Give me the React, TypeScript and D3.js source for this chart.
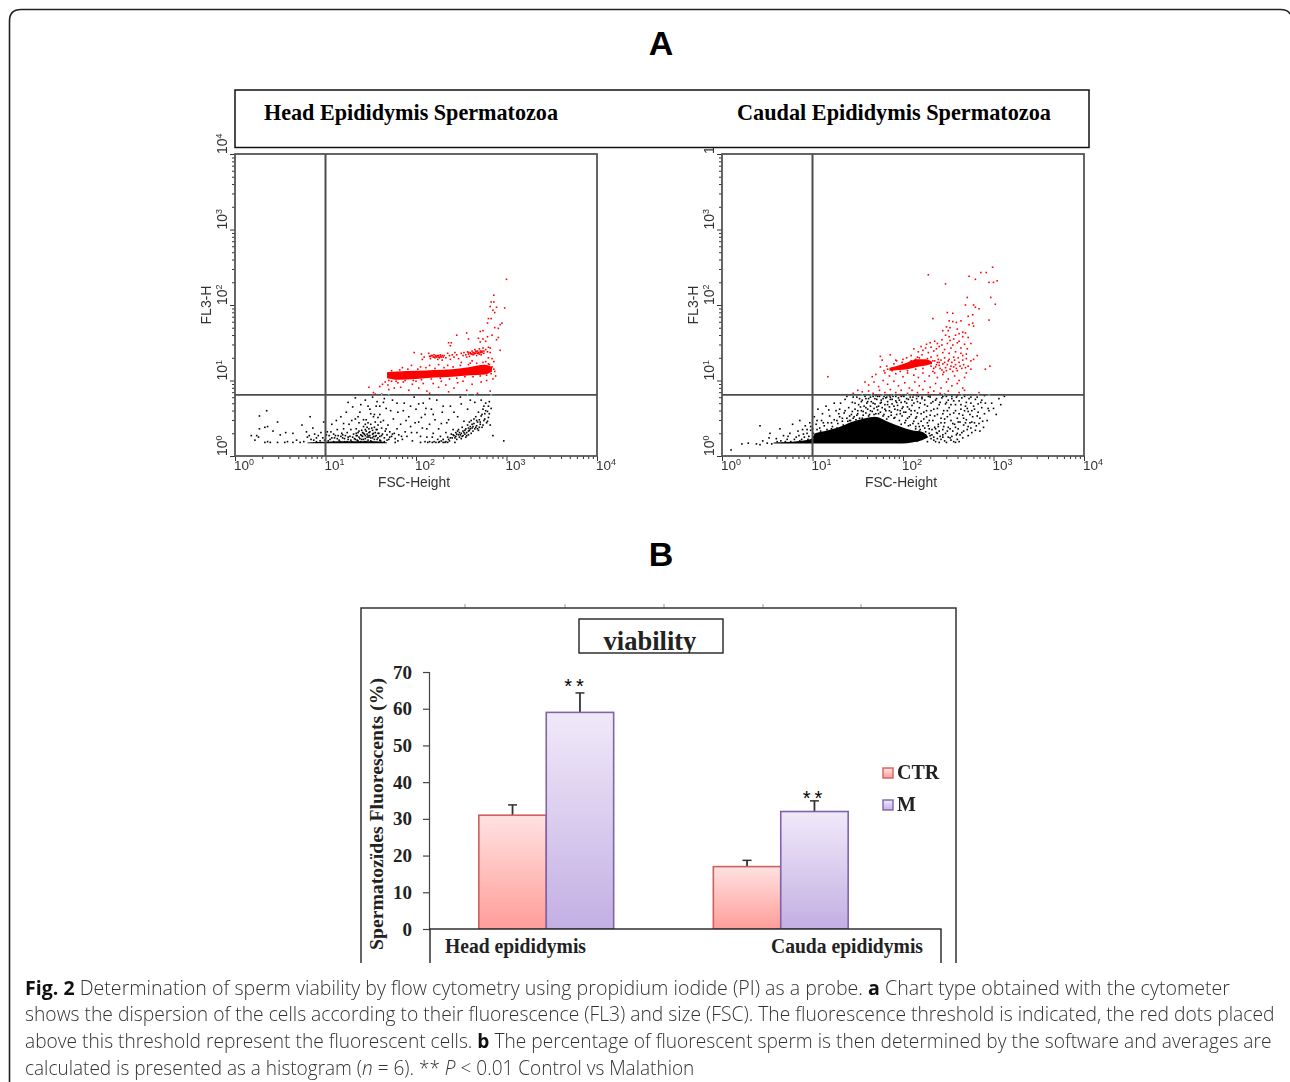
import React, { useEffect, useRef } from 'react';
import * as d3 from 'd3';

type Pt = [number, number];

// flow cytometry points as [log10 FSC, log10 FL3]
const headBlack: Pt[] = [
  [.35,.60],[.27,.53],[.33,.38],[.36,.39],[.27,.36],[.47,.45],[.18,.27],[.24,.27],[.22,.21],[.26,.25],[.33,.18],[.36,.19],[.39,.18],[.47,.18],[.55,.18],[.58,.19],[.64,.18],
  [.42,.33],[.50,.28],[.56,.31],[.64,.30],[.74,.41],[.83,.52],[.86,.37],[.79,.32],[.68,.21],[.72,.18],[.76,.19],[.80,.25],[.82,.27],[.84,.22],[.88,.29],[.90,.24],[.92,.27],[.95,.31],[.97,.24],
  [.98,.45],[1.02,.32],[1.04,.27],[1.05,.22],[1.07,.42],[1.09,.29],[1.10,.24],[1.12,.47],[1.13,.35],[1.14,.27],[1.15,.21],[1.17,.52],[1.18,.30],[1.19,.24],[1.20,.36],[1.21,.19],
  [1.22,.27],[1.23,.58],[1.24,.31],[1.25,.22],[1.26,.42],[1.27,.26],[1.28,.35],[1.29,.19],[1.30,.65],[1.31,.29],[1.32,.23],[1.33,.49],[1.34,.36],[1.34,.27],[1.35,.21],[1.36,.31],
  [1.37,.44],[1.37,.25],[1.38,.58],[1.39,.28],[1.40,.34],[1.40,.22],[1.41,.26],[1.42,.39],[1.42,.30],[1.43,.19],[1.44,.27],[1.44,.23],[1.45,.48],[1.45,.33],[1.46,.29],[1.46,.25],
  [1.47,.21],[1.48,.36],[1.48,.31],[1.49,.62],[1.49,.27],[1.50,.42],[1.50,.24],[1.51,.19],[1.52,.34],[1.52,.29],[1.53,.52],[1.53,.26],[1.54,.38],[1.54,.22],[1.55,.31],[1.55,.45],
  [1.56,.27],[1.57,.72],[1.57,.35],[1.58,.24],[1.58,.41],[1.59,.30],[1.60,.55],[1.60,.26],[1.61,.20],[1.62,.37],[1.63,.29],[1.64,.47],[1.65,.24],[1.66,.33],[1.67,.63],[1.68,.28],
  [1.69,.41],[1.70,.22],[1.71,.32],[1.73,.26],[1.74,.74],[1.75,.49],[1.76,.30],[1.77,.23],[1.79,.36],[1.80,.58],[1.81,.28],[1.83,.42],[1.85,.22],[1.87,.70],[1.88,.32],[1.90,.26],
  [1.92,.52],[1.94,.39],[1.96,.20],[1.98,.78],[2.00,.62],[2.01,.31],[2.03,.45],[2.05,.18],[2.07,.37],[2.08,.70],[2.10,.55],[2.12,.25],[2.13,.18],[2.15,.42],[2.17,.62],[2.18,.18],
  [2.19,.30],[2.21,.48],[2.22,.18],[2.23,.74],[2.25,.36],[2.26,.19],[2.27,.26],[2.29,.58],[2.30,.22],[2.32,.18],[2.33,.31],[2.34,.44],[2.35,.25],[2.37,.20],[2.38,.66],[2.39,.29],
  [2.40,.24],[2.41,.35],[2.42,.27],[2.43,.18],[2.44,.31],[2.45,.22],[2.46,.52],[2.47,.28],[2.47,.35],[2.48,.25],[2.49,.78],[2.50,.30],[2.50,.23],[2.51,.38],[2.52,.27],[2.52,.33],
  [2.53,.46],[2.54,.29],[2.55,.36],[2.55,.25],[2.56,.31],[2.57,.41],[2.57,.62],[2.58,.28],[2.59,.34],[2.60,.39],[2.61,.30],[2.61,.47],[2.62,.37],[2.63,.33],[2.64,.43],[2.65,.71],
  [2.65,.36],[2.66,.52],[2.67,.40],[2.68,.45],[2.69,.34],[2.69,.58],[2.70,.48],[2.71,.42],[2.72,.74],[2.72,.53],[2.73,.38],[2.74,.62],[2.75,.47],[2.75,.66],[2.76,.56],[2.77,.70],
  [2.78,.44],[2.79,.59],[2.80,.51],[2.81,.72],[2.82,.41],[2.83,.63],[2.85,.27],[2.97,.20],[1.25,.71],[1.33,.77],[1.44,.74],[1.52,.78],[1.60,.66],[1.65,.76],[2.30,.66],[2.15,.76],
];
// second pass over the crowded spots of the head plot
const headBlackCrowd: Pt[] = [
  [1.41,.31],[1.47,.27],[1.38,.23],[1.52,.24],[1.44,.35],[1.35,.27],[1.58,.30],[1.50,.20],[1.43,.29],[1.39,.19],[1.55,.26],[1.46,.38],[1.33,.22],[1.60,.21],[1.48,.25],[1.42,.22],
  [1.37,.33],[1.53,.30],[1.30,.25],[1.45,.19],[1.56,.35],[1.40,.27],[1.51,.37],[1.36,.20],[1.49,.32],[1.28,.21],[1.62,.27],[1.44,.42],[1.34,.30],[1.57,.22],[1.25,.25],[1.47,.44],
  [1.21,.23],[1.11,.27],[1.16,.19],[1.07,.24],[1.19,.28],[1.03,.20],[1.13,.23],[.99,.21],[1.09,.19],[1.24,.19],[1.17,.26],[1.01,.28],[.94,.20],[.90,.19],[1.06,.32],[.87,.21],
  [1.68,.21],[1.74,.29],[1.65,.19],[1.80,.20],[1.71,.25],[1.77,.18],[1.84,.26],[1.67,.36],[1.61,.45],[1.54,.55],[1.47,.66],[1.42,.48],[1.58,.51],[1.39,.68],[1.29,.47],[1.20,.43],
  [2.49,.28],[2.44,.26],[2.53,.31],[2.46,.33],[2.41,.28],[2.56,.27],[2.51,.26],[2.38,.24],[2.58,.33],[2.48,.31],[2.43,.24],[2.54,.34],[2.36,.22],[2.60,.36],[2.45,.29],[2.62,.42],
  [2.66,.38],[2.71,.45],[2.63,.39],[2.68,.36],[2.74,.41],[2.58,.37],[2.70,.38],[2.76,.49],[2.79,.46],[2.73,.55],[2.67,.47],[2.77,.60],[2.80,.66],[2.81,.56],[2.64,.49],[2.59,.45],
  [2.28,.20],[2.20,.19],[2.33,.19],[2.25,.18],[2.15,.19],[2.10,.19],[2.35,.18],[2.30,.18],[2.18,.25],[2.24,.22],[1.95,.31],[2.05,.26],[1.89,.47],[1.99,.44],[2.06,.51],[2.12,.36],
  [1.86,.60],[1.94,.66],[2.03,.69],[2.11,.63],[2.19,.55],[2.28,.43],[2.36,.48],[2.42,.58],[2.50,.69],[2.60,.74],[1.79,.70],[1.72,.60],[1.64,.71],[1.56,.66],[1.50,.56],[1.36,.52],
];
const headStripFsc = [.8, 1.0, 1.3, 1.55, 1.68];
const headStripLow = [.17, .17, .17, .17, .17];
const headStripHigh = [.18, .19, .195, .195, .18];
const headRed: Pt[] = [
  [3.0,2.34],[2.86,2.13],[2.83,2.04],[2.86,2.04],[2.82,1.98],[2.89,1.97],[2.85,1.93],[2.98,1.96],[2.87,1.90],[2.80,1.82],[2.83,1.82],[2.79,1.76],[2.95,1.76],[2.93,1.74],[2.87,1.70],[2.91,1.69],
  [2.71,1.65],[2.74,1.66],[2.56,1.63],[2.45,1.60],[2.84,1.60],[2.91,1.57],[2.69,1.56],[2.74,1.55],[2.79,1.58],[2.58,1.55],[2.36,1.50],[2.39,1.50],[2.38,1.46],[2.71,1.51],[2.77,1.52],[2.89,1.54],
  [2.82,1.43],[2.93,1.40],[1.98,1.37],[2.06,1.35],[2.07,1.28],[2.09,1.31],[2.14,1.36],[2.15,1.32],[2.16,1.29],[2.17,1.33],[2.19,1.31],[2.20,1.34],[2.21,1.30],[2.22,1.33],[2.23,1.31],[2.24,1.28],
  [2.25,1.33],[2.26,1.30],[2.27,1.34],[2.28,1.31],[2.29,1.27],[2.31,1.33],[2.33,1.30],[2.35,1.36],[2.37,1.33],[2.38,1.28],[2.40,1.34],[2.42,1.31],[2.43,1.37],[2.45,1.34],[2.47,1.29],[2.50,1.36],
  [2.52,1.33],[2.53,1.37],[2.55,1.34],[2.56,1.31],[2.57,1.38],[2.58,1.35],[2.59,1.32],[2.60,1.37],[2.61,1.35],[2.62,1.39],[2.63,1.34],[2.64,1.37],[2.65,1.41],[2.66,1.36],[2.67,1.33],[2.68,1.39],
  [2.69,1.36],[2.70,1.42],[2.71,1.37],[2.72,1.34],[2.73,1.39],[2.74,1.43],[2.75,1.36],[2.77,1.41],[2.79,1.38],[2.80,1.30],[2.80,1.44],[2.82,1.37],[2.84,1.29],[2.86,1.25],[2.62,1.26],[2.50,1.24],
  [1.48,.91],[1.53,.84],[1.55,.82],[1.62,.82],[1.60,.92],[1.66,.98],[1.63,.95],[1.69,.94],[1.70,.88],[1.73,.99],[1.76,.90],[1.80,.97],[1.83,.91],[1.86,.98],[1.92,.87],[1.96,.95],[2.00,.99],
  [2.03,.90],[2.08,.96],[2.12,.86],[2.15,.83],[2.19,.96],[2.25,.91],[2.28,.99],[2.33,.94],[2.36,.85],[2.42,.90],[2.46,.97],[2.52,.99],[2.56,.87],[2.62,.95],[2.68,.83],[2.72,.98],[2.78,1.0],
  [2.82,.86],[2.85,1.02],[2.88,1.06],[2.87,1.12],[2.84,1.18],[2.80,1.22],[1.85,1.17],[1.95,1.2],[2.05,1.18],[2.15,1.2],[2.25,1.21],[2.35,1.2],
  // fuzz on both edges of the main band
  [1.70,1.00],[1.73,1.13],[1.78,.99],[1.82,1.14],[1.88,1.00],[1.91,1.15],[1.97,1.00],[2.02,1.15],[2.06,1.01],[2.11,1.17],[2.17,1.02],[2.21,1.16],[2.27,1.03],[2.31,1.17],[2.37,1.02],
  [2.41,1.18],[2.45,1.03],[2.49,1.20],[2.54,1.05],[2.58,1.21],[2.63,1.05],[2.67,1.23],[2.71,1.06],[2.74,1.24],[2.78,1.07],[2.81,1.21],[2.83,1.09],[2.86,1.15],[2.77,1.25],[2.60,1.23],
  // the upper band is tighter on its two dense stretches
  [2.18,1.33],[2.20,1.31],[2.22,1.32],[2.25,1.31],[2.27,1.32],[2.29,1.33],[2.16,1.32],[2.24,1.33],[2.30,1.31],[2.60,1.36],[2.63,1.37],[2.65,1.36],[2.67,1.38],[2.69,1.37],[2.71,1.39],[2.73,1.37],
  [2.62,1.35],[2.66,1.39],[2.70,1.35],[2.68,1.36],[2.72,1.38],[2.75,1.39],[2.58,1.37],[2.64,1.35],
];
const headBandFsc = [1.68, 1.8, 2.0, 2.2, 2.4, 2.6, 2.76, 2.84];
const headBandLow = [1.03, 1.01, 1.02, 1.04, 1.05, 1.07, 1.08, 1.12];
const headBandHigh = [1.11, 1.12, 1.13, 1.14, 1.15, 1.18, 1.21, 1.18];

const caudalBlack: Pt[] = [
  [.10,.08],[.22,.16],[.29,.17],[.38,.16],[.42,.15],[.45,.20],[.50,.17],[.52,.24],[.42,.40],[.53,.30],[.55,.16],[.60,.23],[.64,.36],[.68,.27],[.72,.22],[.75,.30],[.78,.42],[.82,.25],[.84,.33],[.86,.47],
  [.88,.22],[.90,.29],[.92,.40],[.94,.35],[.96,.26],[.97,.44],[1.00,.36],[1.02,.52],[1.04,.42],[1.06,.62],[1.08,.37],[1.10,.47],[1.13,.40],[1.15,.66],[1.17,.44],[1.19,.53],[1.22,.39],[1.24,.48],[1.26,.60],[1.28,.43],
  [1.30,.52],[1.31,.70],[1.33,.46],[1.35,.57],[1.36,.75],[1.38,.50],[1.40,.64],[1.41,.47],[1.43,.55],[1.44,.71],[1.46,.52],[1.47,.62],[1.49,.78],[1.50,.56],[1.51,.68],[1.52,.50],[1.54,.60],[1.55,.74],[1.56,.54],[1.57,.66],
  [1.58,.79],[1.59,.57],[1.60,.70],[1.61,.62],[1.62,.76],[1.63,.55],[1.64,.66],[1.65,.72],[1.66,.59],[1.67,.79],[1.68,.63],[1.69,.69],[1.70,.56],[1.71,.75],[1.72,.61],[1.73,.66],[1.74,.79],[1.75,.58],[1.76,.71],[1.77,.64],
  [1.78,.76],[1.79,.55],[1.80,.68],[1.81,.60],[1.82,.78],[1.83,.72],[1.84,.52],[1.85,.65],[1.86,.75],[1.87,.58],[1.88,.69],[1.89,.79],[1.90,.50],[1.91,.62],[1.92,.73],[1.93,.55],[1.94,.67],[1.95,.77],[1.96,.47],[1.97,.60],
  [1.98,.71],[1.99,.53],[2.00,.65],[2.01,.79],[2.02,.44],[2.03,.58],[2.04,.70],[2.05,.50],[2.06,.75],[2.07,.62],[2.08,.41],[2.09,.55],[2.10,.67],[2.11,.78],[2.12,.46],[2.13,.60],[2.14,.39],[2.15,.52],[2.16,.72],[2.17,.43],
  [2.18,.64],[2.19,.35],[2.20,.56],[2.21,.76],[2.22,.40],[2.23,.49],[2.24,.68],[2.25,.32],[2.26,.60],[2.27,.44],[2.28,.79],[2.29,.36],[2.30,.54],[2.31,.70],[2.32,.28],[2.33,.47],[2.34,.62],[2.35,.38],[2.36,.74],[2.37,.31],
  [2.38,.55],[2.39,.42],[2.40,.68],[2.41,.26],[2.42,.50],[2.43,.77],[2.44,.35],[2.45,.60],[2.46,.44],[2.47,.30],[2.48,.71],[2.49,.52],[2.50,.38],[2.51,.64],[2.52,.24],[2.53,.47],[2.54,.76],[2.55,.33],[2.56,.57],[2.57,.42],
  [2.58,.68],[2.59,.28],[2.60,.50],[2.61,.36],[2.62,.73],[2.63,.45],[2.64,.62],[2.65,.31],[2.66,.54],[2.67,.41],[2.68,.79],[2.69,.66],[2.70,.48],[2.71,.35],[2.72,.59],[2.74,.44],[2.75,.70],[2.77,.52],[2.79,.62],[2.81,.40],
  [2.83,.69],[2.85,.33],[2.87,.74],[2.90,.56],[2.93,.47],[2.95,.60],[2.98,.70],[3.0,.63],[3.06,.76],[3.08,.68],[2.10,.22],[2.16,.20],[2.22,.24],[2.27,.19],[2.34,.21],[2.40,.18],[2.46,.20],[2.50,.25],[2.56,.19],[2.30,.27],
  [2.60,.22],[2.66,.24],[2.72,.27],[2.76,.31],[2.40,.33],[2.20,.29],[2.34,.25],[2.05,.34],[2.12,.31],[1.52,.76],[1.45,.78],[1.38,.79],[1.30,.62],[1.24,.70],[1.18,.61],[1.11,.56],[1.05,.47],[1.70,.80],[1.85,.80],[2.0,.80],
  [2.15,.80],[2.3,.80],[2.45,.80],[2.6,.80],[2.75,.78],[2.9,.80],[3.12,.79],[3.03,.55],[2.82,.53],[2.88,.46],
];
// second pass: the cloud above the solid patch is much thicker than the first list
const caudalBlackCrowd: Pt[] = [
  [1.73,.56],[1.91,.51],[1.62,.53],[1.82,.49],[2.03,.47],[1.55,.50],[1.97,.56],[1.68,.55],[2.11,.43],[1.78,.53],[2.18,.39],[1.87,.54],[1.48,.48],[2.07,.52],[2.24,.37],[1.42,.47],
  [1.94,.61],[1.64,.60],[2.14,.50],[1.85,.60],[1.71,.65],[2.01,.58],[2.28,.40],[1.56,.59],[1.80,.62],[2.20,.46],[1.90,.66],[1.59,.64],[2.09,.60],[2.32,.35],[1.75,.70],[1.99,.63],
  [2.26,.52],[1.67,.70],[2.16,.57],[1.83,.68],[2.36,.36],[1.53,.65],[2.05,.65],[1.93,.71],[2.29,.47],[1.76,.74],[2.12,.70],[1.61,.72],[2.23,.58],[1.88,.75],[2.39,.39],[2.02,.72],
  [1.69,.76],[2.31,.60],[1.96,.74],[2.19,.70],[1.81,.77],[2.42,.44],[2.08,.78],[1.64,.78],[2.27,.66],[1.92,.79],[2.35,.53],[2.15,.76],[1.72,.79],[2.44,.56],[2.04,.76],[2.24,.74],
  [1.59,.76],[2.38,.63],[1.86,.78],[2.33,.72],[2.10,.74],[2.46,.49],[1.98,.79],[2.21,.78],[1.54,.72],[2.41,.71],[1.79,.79],[2.30,.78],[2.49,.60],[2.17,.79],[2.37,.76],[2.44,.79],
  [2.47,.69],[2.52,.55],[2.55,.43],[2.50,.74],[2.58,.60],[2.53,.68],[2.61,.45],[2.56,.73],[2.62,.56],[2.48,.79],[2.64,.68],[2.59,.78],[2.67,.50],[2.54,.79],[2.71,.63],[2.65,.77],
  [2.70,.71],[2.74,.55],[2.68,.60],[2.73,.76],[2.78,.66],[2.76,.60],[2.80,.75],[2.72,.39],[2.67,.33],[2.63,.28],[2.58,.38],[2.54,.26],[2.49,.33],[2.44,.28],[2.69,.44],[2.75,.37],
  [2.79,.44],[2.83,.58],[2.85,.50],[2.87,.64],[2.84,.43],[2.91,.70],[2.89,.38],[2.94,.63],[2.80,.34],[2.86,.71],[2.82,.78],[2.76,.45],[2.60,.30],[2.52,.36],[2.45,.39],[2.38,.30],
  [2.31,.23],[2.36,.19],[2.42,.22],[2.48,.18],[2.53,.21],[2.58,.18],[2.44,.25],[2.38,.23],[2.62,.19],[2.29,.30],[2.18,.33],[2.25,.28],[2.14,.36],[2.06,.40],[1.98,.42],
  [1.27,.37],[1.34,.41],[1.21,.36],[1.39,.46],[1.16,.35],[1.45,.50],[1.09,.33],[1.33,.50],[1.27,.47],[1.41,.53],[1.21,.44],[1.36,.60],[1.49,.54],[1.44,.59],[1.12,.44],[1.29,.56],
  [1.05,.35],[1.01,.30],[.98,.34],[.95,.22],[.91,.25],[.86,.20],[.80,.22],[.76,.19],[.70,.19],[.65,.20],[.61,.19],[.94,.30],[.89,.35],[.85,.27],[.73,.26],[.98,.39],[1.50,.60],[1.47,.70],
];
const caudalBlobFsc = [.57, .85, .99, 1.03, 1.14, 1.29, 1.43, 1.58, 1.69, 1.84, 1.99, 2.10, 2.21, 2.28];
const caudalBlobLow = [.165, .165, .165, .165, .165, .165, .165, .165, .165, .165, .165, .18, .21, .25];
const caudalBlobHigh = [.18, .20, .23, .30, .33, .38, .45, .50, .52, .45, .38, .34, .32, .25];
const caudalRed: Pt[] = [
  [2.99,2.5],[2.92,2.43],[2.86,2.43],[2.28,2.40],[2.73,2.38],[2.80,2.34],[2.95,2.30],[3.0,2.30],[3.04,2.32],[2.47,2.28],[2.97,2.10],[2.71,2.10],[3.02,2.01],[2.69,2.0],[2.78,2.0],[2.80,1.97],[2.84,1.95],
  [2.49,1.90],[2.55,1.89],[2.77,1.87],[2.72,1.85],[2.33,1.82],[2.95,1.80],[2.64,1.79],[2.51,1.79],[2.55,1.78],[2.59,1.77],[2.77,1.76],[2.73,1.74],[2.78,1.72],[2.48,1.71],[2.52,1.70],[2.60,1.68],
  [2.44,1.66],[2.50,1.66],[2.66,1.64],[2.62,1.62],[2.69,1.63],[2.47,1.60],[2.51,1.58],[2.58,1.60],[2.66,1.58],[2.72,1.57],[2.43,1.54],[2.35,1.52],[2.52,1.53],[2.56,1.55],[2.62,1.52],[2.30,1.50],
  [2.26,1.48],[2.38,1.49],[2.43,1.47],[2.49,1.49],[2.55,1.47],[2.60,1.50],[2.68,1.48],[2.75,1.49],[2.20,1.45],[2.25,1.43],[2.31,1.44],[2.37,1.42],[2.40,1.45],[2.46,1.41],[2.53,1.43],[2.64,1.43],
  [2.71,1.42],[2.12,1.42],[2.17,1.38],[2.22,1.40],[2.28,1.37],[2.34,1.39],[2.44,1.37],[2.51,1.36],[2.58,1.38],[2.64,1.36],[2.70,1.35],[2.82,1.33],[2.78,1.28],[2.04,1.30],[2.09,1.33],[2.16,1.31],
  [2.21,1.34],[2.31,1.31],[2.38,1.33],[2.46,1.30],[2.51,1.28],[2.56,1.31],[2.61,1.30],[2.66,1.33],[2.70,1.29],[2.75,1.26],[1.75,1.32],[1.77,1.27],[1.86,1.34],[1.92,1.27],[2.0,1.28],[2.14,1.28],
  [2.33,1.26],[2.38,1.24],[2.42,1.27],[2.46,1.24],[2.49,1.21],[2.54,1.24],[2.58,1.21],[2.62,1.24],[2.67,1.21],[2.72,1.19],[2.75,1.15],[2.96,1.19],[2.91,1.15],[1.75,1.18],[1.79,1.13],[2.36,1.18],
  [2.40,1.20],[2.43,1.14],[2.47,1.17],[2.52,1.15],[2.56,1.18],[2.60,1.13],[2.65,1.16],[2.70,1.10],[1.70,1.08],[1.66,1.05],[1.80,1.10],[1.85,1.06],[1.92,1.09],[2.0,1.05],[2.05,1.10],[2.12,1.07],
  [2.17,1.04],[2.22,1.10],[2.29,1.06],[2.33,1.12],[2.38,1.04],[2.44,1.08],[2.50,1.02],[2.57,1.06],[2.62,1.0],[2.68,1.04],[1.17,1.05],[1.58,.98],[1.62,.94],[1.68,.98],[1.73,.92],[1.78,1.0],
  [1.83,.95],[1.90,.99],[1.95,.93],[2.02,.97],[2.07,.90],[2.13,.98],[2.18,.93],[2.24,.99],[2.30,.91],[2.36,.96],[2.42,.90],[2.48,.98],[2.54,.93],[2.60,.96],[2.66,.90],[1.50,.87],[1.55,.85],
  [1.62,.86],[1.67,.83],[1.74,.87],[1.80,.84],[1.86,.88],[1.92,.84],[1.98,.87],[2.05,.83],[2.10,.87],[2.16,.84],[2.22,.88],[2.28,.84],[2.34,.86],[2.41,.83],[2.50,.86],[2.62,.84],[2.68,.87],[2.84,.84],
  [1.45,.83],[1.55,.81],[1.70,.81],[1.83,.81],[1.97,.81],[2.12,.81],[2.30,.81],[2.46,.82],
  // fuzz around the core and its right side
  [1.82,1.19],[1.88,1.13],[1.90,1.22],[1.97,1.12],[1.99,1.24],[2.05,1.13],[2.09,1.26],[2.14,1.15],[2.18,1.30],[2.22,1.16],[2.27,1.29],[2.31,1.19],[2.35,1.26],[2.34,1.16],[2.39,1.28],[2.41,1.16],
  [2.37,1.21],[2.44,1.22],[2.48,1.13],[2.50,1.26],[2.53,1.19],[2.57,1.27],[2.59,1.16],[2.63,1.19],[2.55,1.12],[2.45,1.11],[2.69,1.17],[2.66,1.27],[2.40,1.24],[2.35,1.10],[1.83,1.15],[1.93,1.26],
];
const caudalCoreFsc = [1.85, 1.95, 2.05, 2.15, 2.25, 2.32];
const caudalCoreLow = [1.13, 1.14, 1.15, 1.18, 1.2, 1.22];
const caudalCoreHigh = [1.17, 1.2, 1.24, 1.28, 1.28, 1.25];

const headSpecks = [1.62, 1.70, 2.57, 2.65, 2.83];
const caudalSpecks = [1.55, 1.65, 1.78, 1.9, 2.05, 2.45, 2.65, 2.83, 2.95];

const decades = [0, 1, 2, 3, 4];
const gateFsc = 10;
const gateFl3 = 6.45;

// bar chart values
const sites = ['Head epididymis', 'Cauda epididymis'];
const groups = ['CTR', 'M'];
const ctrValues = [31, 17];
const mValues = [59, 32];
const ctrErr = [2.8, 1.7];
const mErr = [5.3, 2.9];
const stars = ['**', '**'];
const starDx = [-4, 0];
const starDy = [0, 4];
const yLegend = [768, 800];

const caption = [
  [['b', 'Fig. 2'], ['n', ' Determination of sperm viability by flow cytometry using propidium iodide (PI) as a probe. '], ['b', 'a'], ['n', ' Chart type obtained with the cytometer']],
  [['n', 'shows the dispersion of the cells according to their fluorescence (FL3) and size (FSC). The fluorescence threshold is indicated, the red dots placed']],
  [['n', 'above this threshold represent the fluorescent cells. '], ['b', 'b'], ['n', ' The percentage of fluorescent sperm is then determined by the software and averages are']],
  [['n', 'calculated is presented as a histogram ('], ['i', 'n'], ['n', ' = 6). ** '], ['i', 'P'], ['n', ' < 0.01 Control vs Malathion']],
];
const captionEnds = [1231, 1275, 1272, 695];
const captionBase = [995, 1021, 1048, 1075];

const serif = '"Liberation Serif", serif';
const sans = '"Liberation Sans", sans-serif';

const App = () => {
  const svgRef = useRef<SVGSVGElement>(null);

  useEffect(() => {
    const svg = d3.select(svgRef.current);
    svg.selectAll('*').remove();

    const defs = svg.append('defs');
    defs.append('filter').attr('id', 'soft').append('feGaussianBlur').attr('stdDeviation', 0.35);
    const grad = (id: string, top: string, bottom: string) => {
      const g = defs.append('linearGradient').attr('id', id).attr('x1', 0).attr('x2', 0).attr('y1', 0).attr('y2', 1);
      g.append('stop').attr('offset', '0%').attr('stop-color', top);
      g.append('stop').attr('offset', '100%').attr('stop-color', bottom);
    };
    grad('ctrFill', '#ffe2e1', '#ff9d99');
    grad('mFill', '#f0e9f9', '#c3afe3');
    defs.append('clipPath').attr('id', 'titleClip').append('rect').attr('x', 579).attr('y', 619).attr('width', 144).attr('height', 34);

    svg.append('rect').attr('width', 1290).attr('height', 1082).attr('fill', '#fff');

    // Panel headings
    [['A', 55], ['B', 566]].forEach(([t, y]) => {
      svg.append('text').attr('x', 661).attr('y', y).attr('text-anchor', 'middle')
        .attr('font-family', sans).attr('font-weight', 'bold').attr('font-size', 34).text(t as string);
    });

    // Flow cytometry plots
    const drawFlow = (left: number, black: Pt[], red: Pt[], dense: any[], specks: number[]) => {
      const w = 362, h = 302;
      const x = d3.scaleLog().domain([1, 10000]).range([0, w]);
      const y = d3.scaleLog().domain([1, 10000]).range([h, 0]);
      const g = svg.append('g').attr('transform', `translate(${left},154)`).attr('filter', 'url(#soft)');

      const minors: number[] = [];
      decades.slice(0, 4).forEach(d => d3.range(2, 10).forEach(k => minors.push(k * 10 ** d)));
      const majors = decades.map(d => 10 ** d);

      const axisX = (vals: number[], size: number) => d3.axisBottom(x).tickValues(vals).tickSize(size).tickFormat(() => '');
      const axisY = (vals: number[], size: number) => d3.axisLeft(y).tickValues(vals).tickSize(size).tickFormat(() => '');
      [axisX(majors, 5), axisX(minors, 3)].forEach(a => {
        const n = g.append('g').attr('transform', `translate(0,${h})`).call(a);
        n.select('.domain').remove();
        n.selectAll('line').attr('stroke', '#333');
      });
      [axisY(majors, 5), axisY(minors, 3)].forEach(a => {
        const n = g.append('g').call(a);
        n.select('.domain').remove();
        n.selectAll('line').attr('stroke', '#333');
      });

      // dense clouds are drawn as areas, loose cells as dots
      const area = d3.area<number>()
        .x(d => x(10 ** d))
        .curve(d3.curveMonotoneX);
      dense.forEach(([fsc, low, high, color]) => {
        g.append('path')
          .attr('d', area.y0((_, i) => y(10 ** low[i])).y1((_, i) => y(10 ** high[i]))(fsc))
          .attr('fill', color);
      });
      const dots = (pts: Pt[], color: string) => {
        g.append('g').selectAll('rect').data(pts).enter().append('rect')
          .attr('x', d => x(10 ** d[0]) - 0.8)
          .attr('y', d => y(10 ** d[1]) - 0.8)
          .attr('width', 1.6).attr('height', 1.6)
          .attr('fill', color);
      };
      dots(black, '#000');
      dots(red, '#f00');

      // frame and gates
      g.append('rect').attr('width', w).attr('height', h).attr('fill', 'none').attr('stroke', '#555').attr('stroke-width', 1.8);
      g.append('line').attr('x1', x(gateFsc)).attr('x2', x(gateFsc)).attr('y1', 0).attr('y2', h).attr('stroke', '#4d4d4d').attr('stroke-width', 2);
      g.append('line').attr('x1', 0).attr('x2', w).attr('y1', y(gateFl3)).attr('y2', y(gateFl3)).attr('stroke', '#4d4d4d').attr('stroke-width', 1.9);
      g.append('g').selectAll('rect').data(specks).enter().append('rect')
        .attr('x', d => x(10 ** d) - 0.6).attr('y', y(gateFl3) - 1).attr('width', 1.2).attr('height', 2)
        .attr('fill', '#5fd8d8');

      // decade labels
      decades.forEach(d => {
        const t = g.append('text').attr('x', x(10 ** d) - 1).attr('y', h + 14)
          .attr('font-family', sans).attr('font-size', 13.5).attr('fill', '#333').text('10');
        t.append('tspan').attr('dy', -5).attr('font-size', 9).text(d);
        const ty = y(10 ** d);
        const r = g.append('text').attr('transform', `translate(-8,${ty}) rotate(-90)`)
          .attr('font-family', sans).attr('font-size', 14).attr('fill', '#333').text('10');
        r.append('tspan').attr('dy', -5).attr('font-size', 9).text(d);
      });
      g.append('text').attr('x', 179).attr('y', h + 30.5).attr('text-anchor', 'middle')
        .attr('font-family', sans).attr('font-size', 13.8).attr('fill', '#333').text('FSC-Height');
      g.append('text').attr('transform', `translate(-24,151) rotate(-90)`).attr('text-anchor', 'middle')
        .attr('font-family', sans).attr('font-size', 14).attr('fill', '#333').text('FL3-H');
    };

    drawFlow(235, [...headBlack, ...headBlackCrowd], headRed, [
      [headStripFsc, headStripLow, headStripHigh, '#000'],
      [headBandFsc, headBandLow, headBandHigh, '#f00'],
    ], headSpecks);
    drawFlow(722, [...caudalBlack, ...caudalBlackCrowd], caudalRed, [
      [caudalBlobFsc, caudalBlobLow, caudalBlobHigh, '#000'],
      [caudalCoreFsc, caudalCoreLow, caudalCoreHigh, '#f00'],
    ], caudalSpecks);

    // Header box sits over the top of the second plot's axis label
    svg.append('rect').attr('x', 235).attr('y', 90).attr('width', 854).attr('height', 57.5)
      .attr('fill', '#fff').attr('stroke', '#111').attr('stroke-width', 1.5);
    [['Head Epididymis Spermatozoa', 264, 294], ['Caudal Epididymis Spermatozoa', 737, 314]].forEach(([t, tx, len]) => {
      svg.append('text').attr('x', tx).attr('y', 120).attr('font-family', serif).attr('font-weight', 'bold')
        .attr('font-size', 22.5).attr('textLength', len).attr('lengthAdjust', 'spacingAndGlyphs').text(t as string);
    });

    // Bar chart
    svg.append('g').selectAll('line').data([465, 565, 664, 763, 861]).enter().append('line')
      .attr('x1', d => d).attr('x2', d => d).attr('y1', 604).attr('y2', 608).attr('stroke', '#999');
    svg.append('rect').attr('x', 361).attr('y', 608).attr('width', 595).attr('height', 420)
      .attr('fill', '#fff').attr('stroke', '#333').attr('stroke-width', 1.5);

    const yBar = d3.scaleLinear().domain([0, 70]).range([929, 672]);
    const x0 = d3.scaleBand().domain(sites).range([429, 898]).paddingInner(0.425).paddingOuter(0.2125);
    const x1 = d3.scaleBand().domain(groups).range([0, x0.bandwidth()]);
    const seriesValues: Record<string, number[]> = { CTR: ctrValues, M: mValues };
    const seriesErr: Record<string, number[]> = { CTR: ctrErr, M: mErr };
    const stroke: Record<string, string> = { CTR: '#d0605c', M: '#8064a8' };
    const fill: Record<string, string> = { CTR: 'url(#ctrFill)', M: 'url(#mFill)' };

    const yAxis = svg.append('g').attr('transform', 'translate(429,0)')
      .call(d3.axisLeft(yBar).tickValues(d3.range(0, 80, 10)).tickSize(6).tickPadding(11));
    yAxis.select('.domain').attr('stroke', '#444').attr('stroke-width', 1.2);
    yAxis.selectAll('line').attr('stroke', '#444').attr('stroke-width', 1.2);
    yAxis.selectAll('text').attr('font-family', serif).attr('font-weight', 'bold').attr('font-size', 19).attr('fill', '#222');

    groups.forEach(grp => {
      sites.forEach((site, i) => {
        const bx = (x0(site) as number) + (x1(grp) as number);
        const v = seriesValues[grp][i];
        const cx = bx + x1.bandwidth() / 2;
        const top = yBar(v + seriesErr[grp][i]);
        svg.append('line').attr('x1', cx).attr('x2', cx).attr('y1', top).attr('y2', yBar(v))
          .attr('stroke', '#333').attr('stroke-width', 1.8);
        svg.append('line').attr('x1', cx - 4.5).attr('x2', cx + 4.5).attr('y1', top).attr('y2', top)
          .attr('stroke', '#333').attr('stroke-width', 1.5);
        svg.append('rect').attr('x', bx).attr('y', yBar(v)).attr('width', x1.bandwidth()).attr('height', yBar(0) - yBar(v))
          .attr('fill', fill[grp]).attr('stroke', stroke[grp]).attr('stroke-width', 1.6);
      });
    });
    sites.forEach((site, i) => {
      const cx = (x0(site) as number) + (x1('M') as number) + x1.bandwidth() / 2;
      svg.append('text').attr('x', cx + starDx[i]).attr('y', yBar(mValues[i] + mErr[i]) + starDy[i]).attr('text-anchor', 'middle')
        .attr('font-family', sans).attr('font-size', 20).attr('letter-spacing', 4).text(stars[i]);
    });

    // Category strip below the zero line
    svg.append('rect').attr('x', 430).attr('y', 929).attr('width', 511).attr('height', 60)
      .attr('fill', '#fff').attr('stroke', '#222').attr('stroke-width', 1.4);
    [[445, 141], [771, 152]].forEach(([tx, len], i) => {
      svg.append('text').attr('x', tx).attr('y', 953).attr('font-family', serif).attr('font-weight', 'bold')
        .attr('font-size', 20).attr('fill', '#222').attr('textLength', len).attr('lengthAdjust', 'spacingAndGlyphs').text(sites[i]);
    });

    svg.append('text').attr('transform', 'translate(383,814) rotate(-90)').attr('text-anchor', 'middle')
      .attr('font-family', serif).attr('font-weight', 'bold').attr('font-size', 18).attr('fill', '#222')
      .attr('textLength', 272).attr('lengthAdjust', 'spacingAndGlyphs').text('Spermatozïdes Fluorescents (%)');

    // Title box, the text is cut by its lower edge in the original
    svg.append('rect').attr('x', 579).attr('y', 619).attr('width', 144).attr('height', 34)
      .attr('fill', '#fff').attr('stroke', '#222').attr('stroke-width', 1.4);
    svg.append('text').attr('x', 650).attr('y', 650).attr('text-anchor', 'middle').attr('clip-path', 'url(#titleClip)')
      .attr('font-family', serif).attr('font-weight', 'bold').attr('font-size', 26.5).attr('fill', '#222').text('viability');

    // Legend
    groups.forEach((grp, i) => {
      const ly = yLegend[i];
      svg.append('rect').attr('x', 883).attr('y', ly).attr('width', 10).attr('height', 10)
        .attr('fill', fill[grp]).attr('stroke', stroke[grp]).attr('stroke-width', 1.4);
      svg.append('text').attr('x', 897).attr('y', ly + 11).attr('font-family', serif).attr('font-weight', 'bold')
        .attr('font-size', 20).attr('fill', '#222').text(grp);
    });

    // Caption area hides the rest of the figure
    svg.append('rect').attr('x', 0).attr('y', 963).attr('width', 1290).attr('height', 119).attr('fill', '#fff');
    caption.forEach((runs, i) => {
      const t = svg.append('text').attr('font-family', '"Open Sans", sans-serif').attr('font-size', 19.5).attr('fill', '#333');
      runs.forEach(([style, str]) => {
        t.append('tspan').attr('style', 'white-space:pre')
          .attr('font-weight', style === 'b' ? 'bold' : 300)
          .attr('font-style', style === 'i' ? 'italic' : 'normal')
          .attr('fill', style === 'b' ? '#111' : '#333')
          .text(str);
      });
      // squeeze each line to the width it has in the original
      const natural = (t.node() as SVGTextElement).getComputedTextLength();
      t.attr('transform', `translate(25,${captionBase[i]}) scale(${(captionEnds[i] - 25) / natural},1)`);
    });

    // Card outline
    svg.append('path').attr('d', 'M9.5,1082V21Q9.5,9.5 21,9.5H1280Q1288,9.5 1290,14')
      .attr('fill', 'none').attr('stroke', '#222').attr('stroke-width', 1.6);
  }, []);

  return <svg ref={svgRef} width={1290} height={1082} style={{ position: 'absolute', left: 0, top: 0 }} />;
};

export default App;
